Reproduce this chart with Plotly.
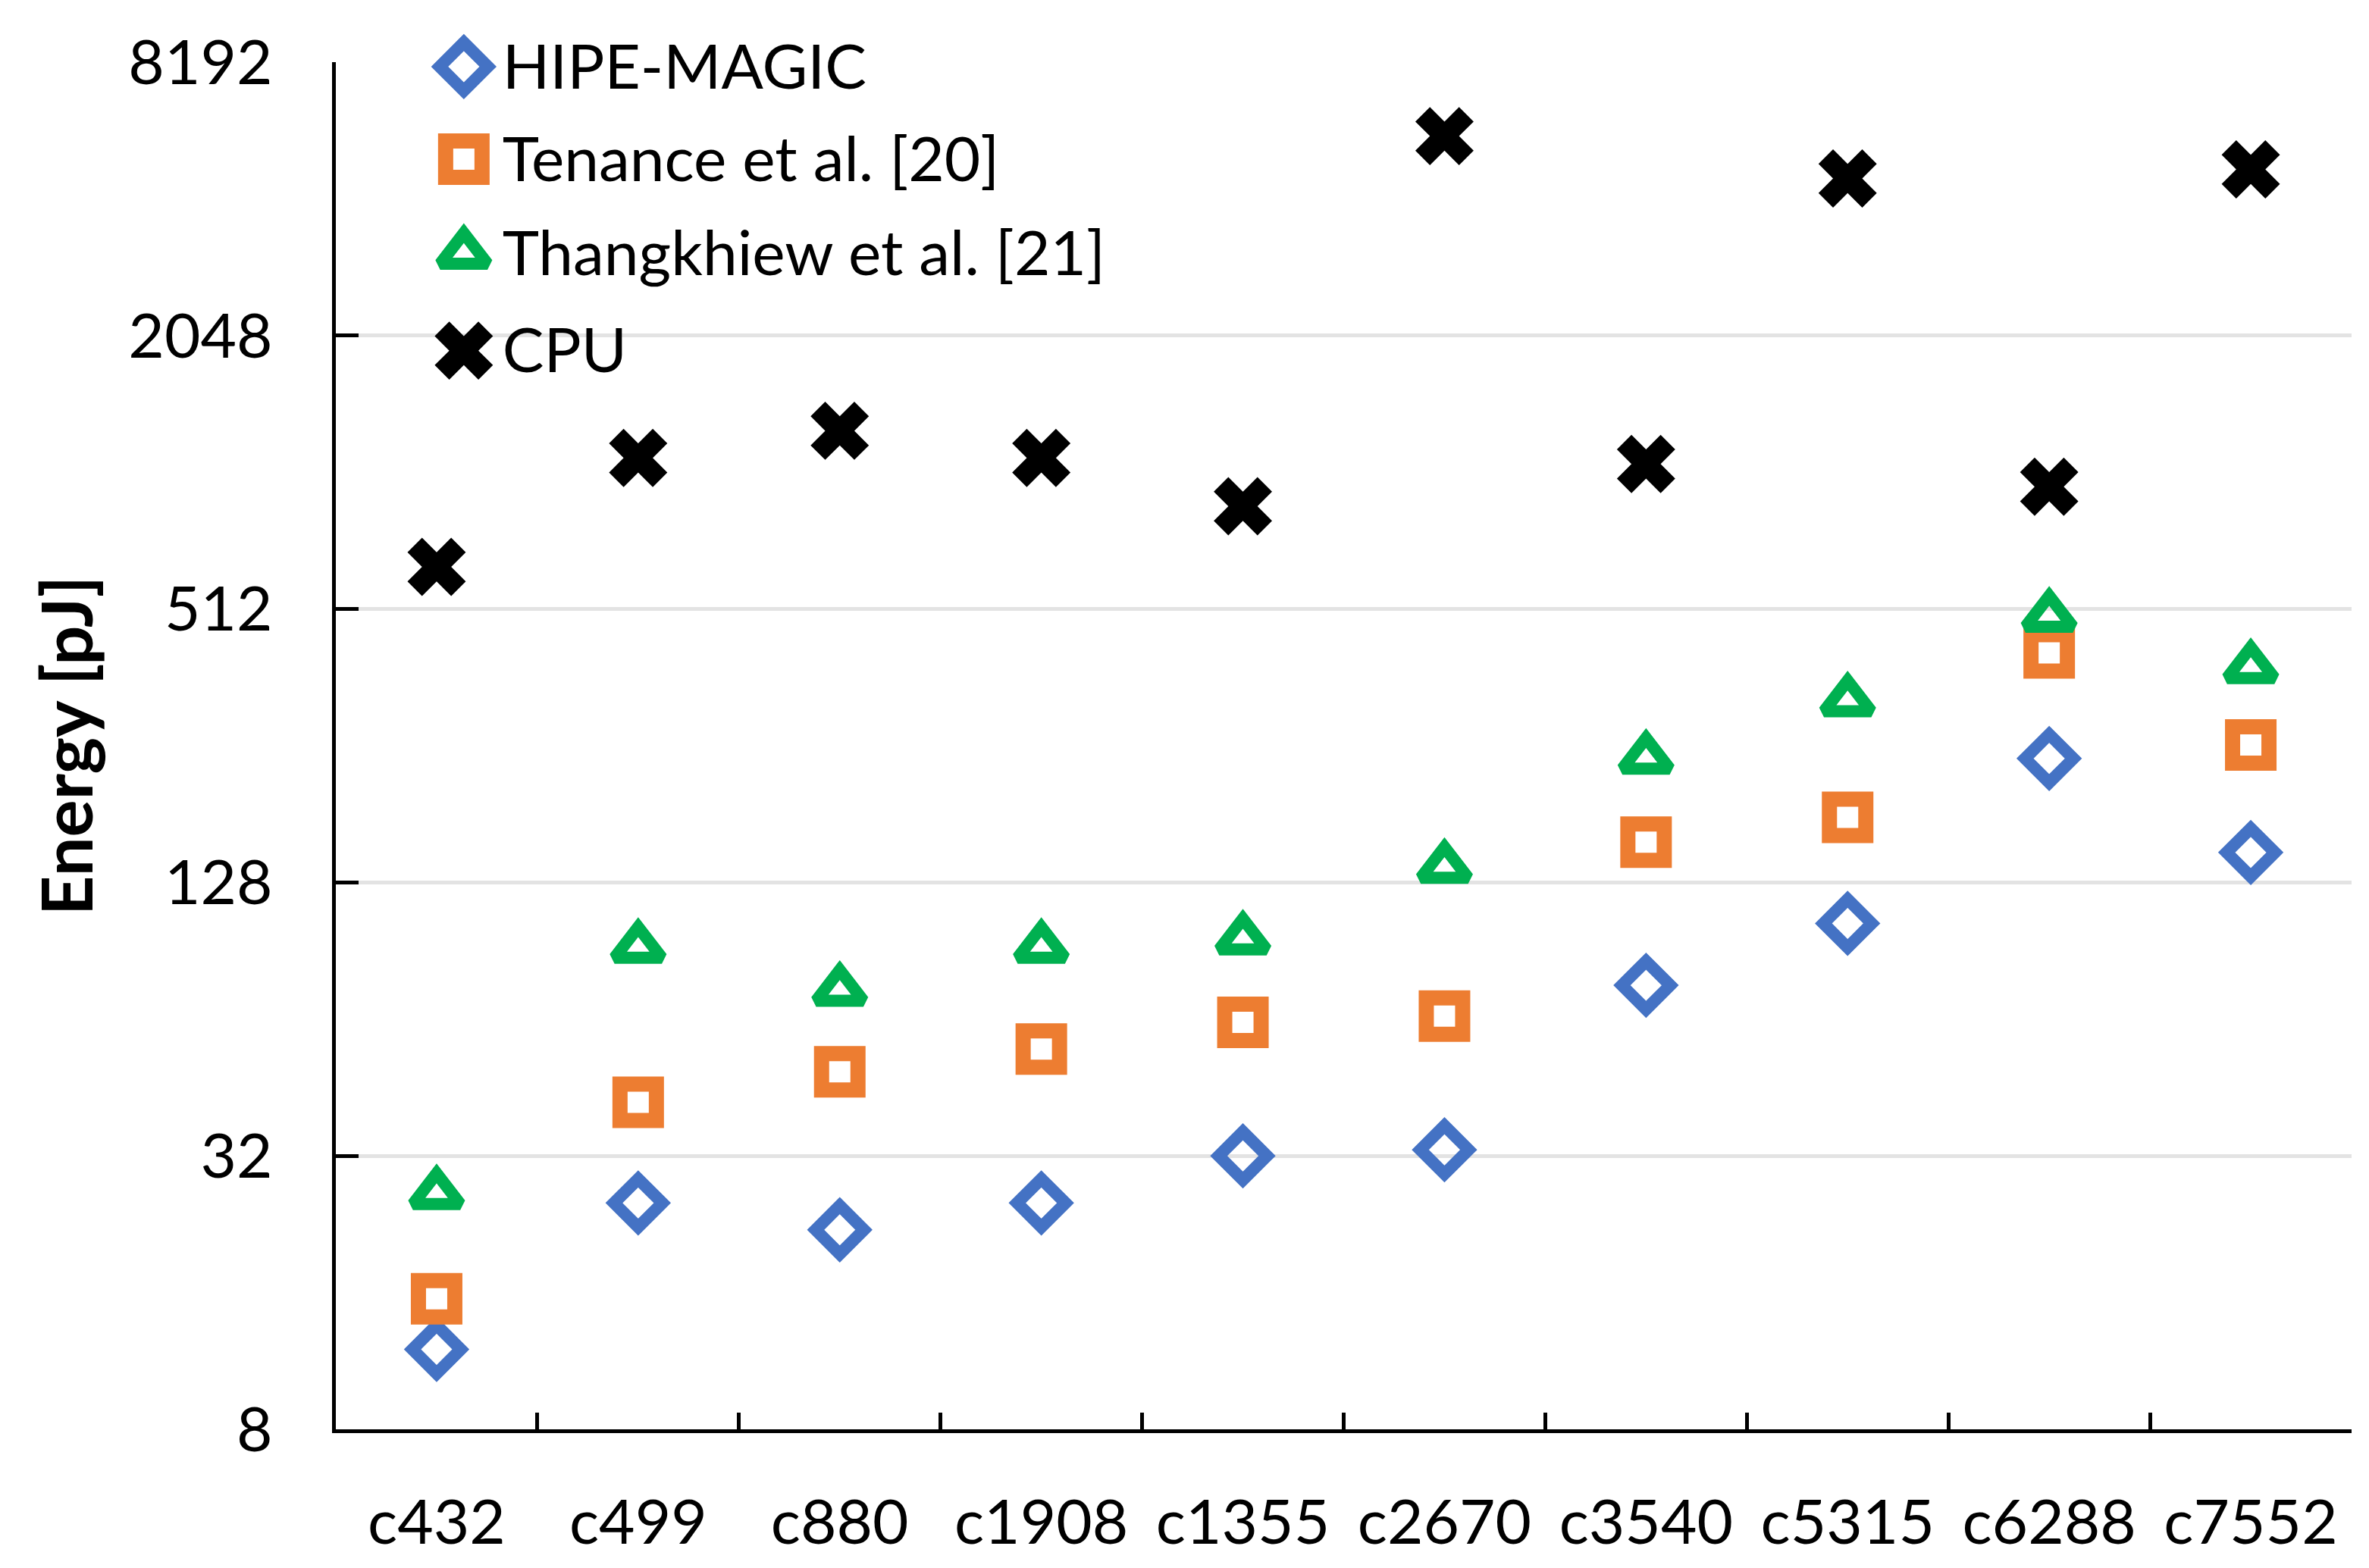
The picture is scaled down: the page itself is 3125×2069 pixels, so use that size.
import plotly.graph_objects as go
import math

# data (energy in pJ)
circuits = ["c432", "c499", "c880", "c1908", "c1355", "c2670", "c3540", "c5315", "c6288", "c7552"]
hipe_magic = [12.0, 25.2, 22.0, 25.2, 32.0, 33.0, 76, 104, 240, 149]
tenance = [15.5, 42, 49, 55, 63, 65, 157, 178, 410, 257]
thangkhiew = [26.4, 92, 74, 92, 96, 138, 240, 321, 493, 380]
cpu = [634, 1101, 1264, 1101, 862, 5630, 1068, 4543, 952, 4755]

series_names = ["HIPE-MAGIC", "Tenance et al. [20]", "Thangkhiew et al. [21]", "CPU"]
y_ticks = [8, 32, 128, 512, 2048, 8192]

FONT = "Lato, Open Sans, sans-serif"

styles = [
    dict(symbol="diamond-open", size=49, color="#4472C4", line=dict(width=16, color="#4472C4")),
    dict(symbol="square-open", size=48, color="#ED7D31", line=dict(width=20, color="#ED7D31")),
    dict(symbol="triangle-up-open", size=54, color="#00B050", line=dict(width=16, color="#00B050")),
    dict(symbol="x", size=68, color="#000000", line=dict(width=0)),
]

fig = go.Figure()
for name, vals, st in zip(series_names, [hipe_magic, tenance, thangkhiew, cpu], styles):
    fig.add_trace(go.Scatter(x=circuits, y=vals, mode="markers", name=name,
                             marker=st, showlegend=False))

# legend drawn by hand so the symbols keep their full size
leg_x = 0.0635
leg_y = [0.9967, 0.929, 0.860, 0.789]
for name, st, yy in zip(series_names, styles, leg_y):
    fig.add_trace(go.Scatter(x=[leg_x], y=[yy], mode="markers", marker=st,
                             xaxis="x2", yaxis="y2", showlegend=False,
                             cliponaxis=False, hoverinfo="skip"))
# text sits a touch lower so its caps line up with the symbols
fig.add_trace(go.Scatter(x=[0.0826] * 4, y=[v - 0.0045 for v in leg_y], mode="text",
                         text=series_names, textposition="middle right",
                         textfont=dict(family=FONT, size=82, color="black"),
                         xaxis="x2", yaxis="y2", showlegend=False,
                         cliponaxis=False, hoverinfo="skip"))

# page body keeps an 8px margin, so the figure is a bit smaller than the window
fig.update_layout(
    width=3117, height=2053,
    margin=dict(l=435, r=23, t=74, b=175),
    paper_bgcolor="white", plot_bgcolor="white",
    font=dict(family=FONT, size=82, color="black"),
    showlegend=False,
    xaxis=dict(type="category", categoryorder="array", categoryarray=circuits,
               range=[-0.5, len(circuits) - 0.5], tickson="boundaries",
               ticks="inside", ticklen=22, tickwidth=5, tickcolor="black",
               showline=True, linecolor="black", linewidth=5, automargin=False,
               showgrid=False, tickfont=dict(size=82), ticklabelstandoff=48),
    yaxis=dict(type="log", range=[math.log10(8), math.log10(8192)],
               tickvals=y_ticks, ticktext=[str(v) for v in y_ticks],
               ticks="inside", ticklen=30, tickwidth=5, tickcolor="black",
               showline=True, linecolor="black", linewidth=5, automargin=False,
               showgrid=True, gridcolor="#E3E3E3", gridwidth=5,
               tickfont=dict(size=82), ticklabelstandoff=62,
               title=dict(text="<b>Energy [pJ]</b>", font=dict(size=92), standoff=18)),
    xaxis2=dict(overlaying="x", range=[0, 1], visible=False),
    yaxis2=dict(overlaying="y", range=[0, 1], visible=False),
)

fig.write_html("out.html")
